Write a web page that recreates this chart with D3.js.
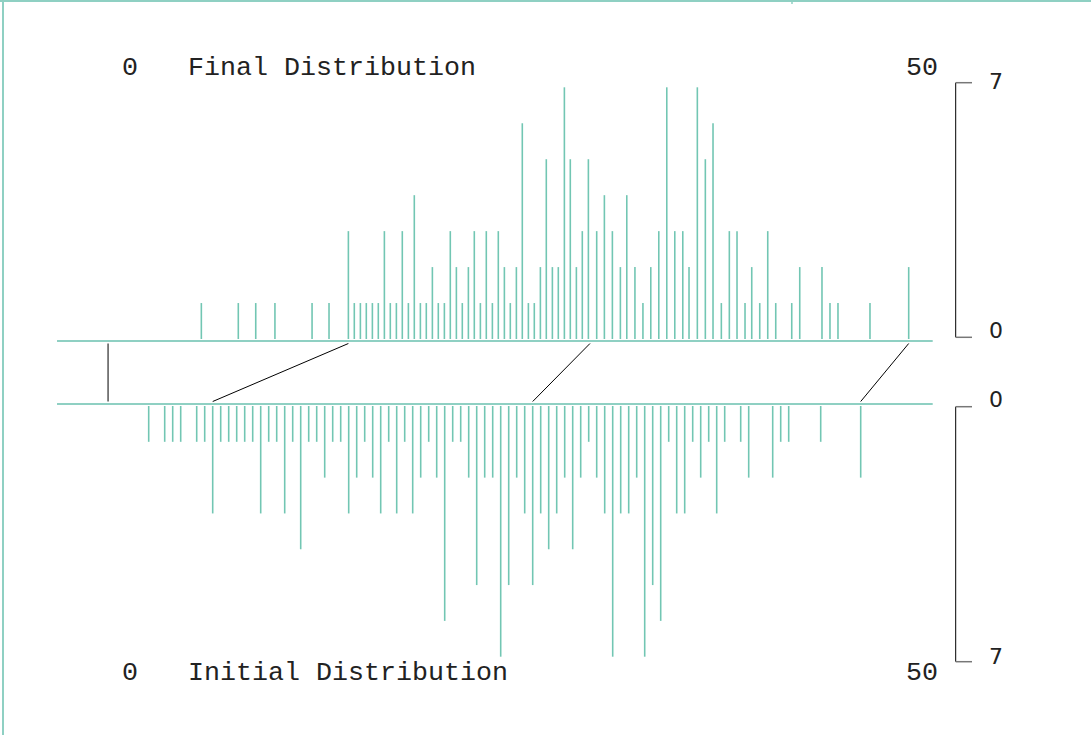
<!DOCTYPE html>
<html>
<head>
<meta charset="utf-8">
<script src="https://cdn.jsdelivr.net/npm/d3@7/dist/d3.min.js"></script>
<style>
  html, body { margin: 0; padding: 0; background: #fff; }
  svg { display: block; }
</style>
</head>
<body>
<svg id="chart" width="1091" height="735"></svg>
<script>
// ---- Data ----
const finalValues = [4.29, 6.60, 7.69, 8.89, 11.21, 12.27, 13.48, 13.85, 14.23, 14.60, 14.98, 15.35, 15.73, 16.10, 16.48, 16.85,
  17.23, 17.60, 17.98, 18.35, 18.73, 19.10, 19.48, 19.85, 20.23, 20.60, 20.98, 21.35, 21.73, 22.10, 22.48, 22.85,
  23.23, 23.60, 23.98, 24.35, 24.73, 25.10, 25.48, 25.85, 26.23, 26.60, 26.98, 27.35, 27.73, 28.10, 28.48, 29.00,
  29.48, 29.98, 30.48, 30.88, 31.39, 31.89, 32.38, 32.88, 33.38, 33.88, 34.38, 34.77, 35.29, 35.79, 36.27, 36.79,
  37.29, 37.77, 38.27, 38.69, 39.19, 39.69, 40.19, 41.19, 41.69, 43.08, 43.58, 44.08, 46.08, 48.50];
const finalCounts = [1, 1, 1, 1, 1, 1, 3, 1, 1, 1, 1, 1, 3, 1, 1, 3,
  1, 4, 1, 1, 2, 1, 1, 3, 2, 1, 2, 3, 1, 3, 1, 3,
  2, 1, 2, 6, 1, 1, 2, 5, 2, 2, 7, 5, 2, 3, 5, 3,
  4, 3, 2, 4, 2, 1, 2, 3, 7, 3, 3, 2, 7, 5, 6, 1,
  3, 3, 1, 2, 1, 3, 1, 1, 2, 2, 1, 1, 1, 2];

const initialValues = [1.0, 2.0, 2.5, 3.0, 4.0, 4.5, 5.0, 5.5, 6.0, 6.5, 7.0, 7.5, 8.0, 8.5, 9.0, 9.5,
  10.0, 10.5, 11.0, 11.5, 12.0, 12.5, 13.0, 13.5, 14.0, 14.5, 15.0, 15.5, 16.0, 16.5, 17.0, 17.5,
  18.0, 18.5, 19.0, 19.5, 20.0, 20.5, 21.0, 21.5, 22.0, 22.5, 23.0, 23.5, 24.0, 24.5, 25.0, 25.5,
  26.0, 26.5, 27.0, 27.5, 28.0, 28.5, 29.0, 29.5, 30.0, 30.5, 31.0, 31.5, 32.0, 32.5, 33.0, 33.5,
  34.0, 34.5, 35.0, 35.5, 36.0, 36.5, 37.0, 38.0, 38.5, 40.0, 40.5, 41.0, 43.0, 45.5];
const initialCounts = [1, 1, 1, 1, 1, 1, 3, 1, 1, 1, 1, 1, 3, 1, 1, 3,
  1, 4, 1, 1, 2, 1, 1, 3, 2, 1, 2, 3, 1, 3, 1, 3,
  2, 1, 2, 6, 1, 1, 2, 5, 2, 2, 7, 5, 2, 3, 5, 3,
  4, 3, 2, 4, 2, 1, 2, 3, 7, 3, 3, 2, 7, 5, 6, 1,
  3, 3, 1, 2, 1, 3, 1, 1, 2, 2, 1, 1, 1, 2];

// connectors: initial value -> final value
const linkInitial = [-1.54, 5.0, 25.0, 45.5];
const linkFinal = [-1.54, 13.48, 28.58, 48.5];

const xTickLabels = ["0", "50"];
const yTickLabels = [0, 7];
const titleFinal = "Final Distribution";
const titleInitial = "Initial Distribution";

// ---- Setup ----
const svg = d3.select("#chart");
const spikeColor = "#72c6b3";
const baseColor = "#8fd0c3";

const x = d3.scaleLinear().domain([0, 50]).range([132.7, 932.7]);
const lineExtent = [-4.73, 50];

const yTop = d3.scaleLinear().domain([0, 7]).range([339, 87.3]);
const yBot = d3.scaleLinear().domain([0, 7]).range([406, 656.7]);

const topAxisScale = d3.scaleLinear().domain([0, 7]).range([337.3, 82.7]);
const botAxisScale = d3.scaleLinear().domain([0, 7]).range([406.7, 661.7]);

// frame
svg.append("line").attr("x1", 0).attr("x2", 1091).attr("y1", 1).attr("y2", 1)
  .attr("stroke", baseColor).attr("stroke-width", 2);
svg.append("line").attr("x1", 3).attr("x2", 3).attr("y1", 0).attr("y2", 735)
  .attr("stroke", baseColor).attr("stroke-width", 2);
svg.append("line").attr("x1", 792).attr("x2", 792).attr("y1", 0).attr("y2", 4)
  .attr("stroke", baseColor).attr("stroke-width", 1.5);

// baselines
svg.append("line").attr("x1", x(lineExtent[0])).attr("x2", x(lineExtent[1]))
  .attr("y1", 341).attr("y2", 341).attr("stroke", baseColor).attr("stroke-width", 2);
svg.append("line").attr("x1", x(lineExtent[0])).attr("x2", x(lineExtent[1]))
  .attr("y1", 404).attr("y2", 404).attr("stroke", baseColor).attr("stroke-width", 2);

// final spikes (up)
const finalData = finalValues.map((v, i) => ({ v, c: finalCounts[i] }));
svg.append("g").selectAll("line").data(finalData).join("line")
  .attr("x1", d => x(d.v)).attr("x2", d => x(d.v))
  .attr("y1", yTop(0)).attr("y2", d => yTop(d.c))
  .attr("stroke", spikeColor).attr("stroke-width", 1.6);

// initial spikes (down)
const initData = initialValues.map((v, i) => ({ v, c: initialCounts[i] }));
svg.append("g").selectAll("line").data(initData).join("line")
  .attr("x1", d => x(d.v)).attr("x2", d => x(d.v))
  .attr("y1", yBot(0)).attr("y2", d => yBot(d.c))
  .attr("stroke", spikeColor).attr("stroke-width", 1.6);

// connectors
const links = linkInitial.map((v, i) => ({ a: v, b: linkFinal[i] }));
svg.append("g").selectAll("line").data(links).join("line")
  .attr("x1", d => x(d.a)).attr("y1", 401.5)
  .attr("x2", d => x(d.b)).attr("y2", 343.5)
  .attr("stroke", "#000").attr("stroke-width", 1);

// titles
const mono = "'Nimbus Mono PS', 'Nimbus Mono L', Courier, 'Liberation Mono', monospace";
function titleRow(baseline, title) {
  svg.append("text").attr("x", x(0) - 2.7).attr("y", baseline)
    .attr("text-anchor", "middle").attr("font-family", mono).attr("font-size", 26.67)
    .attr("fill", "#222").text(xTickLabels[0]);
  svg.append("text").attr("x", 188).attr("y", baseline)
    .attr("font-family", mono).attr("font-size", 26.67).attr("fill", "#222").text(title);
  svg.append("text").attr("x", x(50) + 5.3).attr("y", baseline)
    .attr("text-anchor", "end").attr("font-family", mono).attr("font-size", 26.67)
    .attr("fill", "#222").text(xTickLabels[1]);
}
titleRow(75, titleFinal);
titleRow(680, titleInitial);

// right axes
function rightAxis(scale, labelY) {
  const g = svg.append("g");
  const [r0, r1] = scale.range();
  g.append("line").attr("x1", 955.7).attr("x2", 955.7).attr("y1", r0).attr("y2", r1)
    .attr("stroke", "#000").attr("stroke-width", 1);
  g.selectAll("line.tick").data(yTickLabels).join("line").attr("class", "tick")
    .attr("x1", 955.7).attr("x2", 972).attr("y1", d => scale(d)).attr("y2", d => scale(d))
    .attr("stroke", "#777").attr("stroke-width", 1.5);
  g.selectAll("text").data(yTickLabels).join("text")
    .attr("x", 989).attr("y", d => labelY(d))
    .attr("font-family", "'DejaVu Sans', sans-serif").attr("font-size", 22)
    .attr("fill", "#222").text(d => d);
}
rightAxis(topAxisScale, d => yTop(d) + (d === 0 ? -1 : 1.5));
rightAxis(botAxisScale, d => yBot(d) + (d === 0 ? 1 : 7));
</script>
</body>
</html>
